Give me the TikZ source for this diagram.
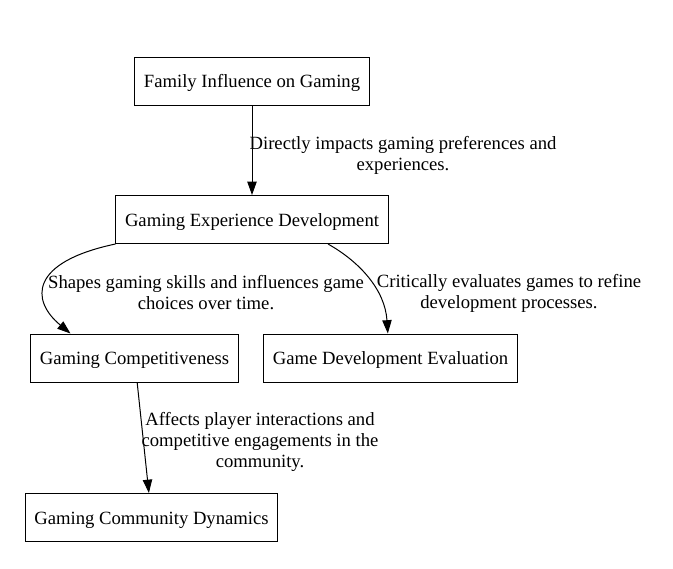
\documentclass[tikz,border=0pt]{standalone}
\usepackage{fontspec}
\setmainfont{Liberation Serif}
\usetikzlibrary{arrows.meta}

\begin{document}
\begin{tikzpicture}[x=0.75pt,y=-0.75pt,font=\fontsize{14}{15.75}\selectfont,
  box/.style={draw,line width=0.75pt,minimum height=36pt,inner xsep=6.8pt,text height=13pt,text depth=3pt},
  lbl/.style={align=center,inner sep=0pt},
  edge/.style={-{Triangle[length=10pt,width=7pt]},line width=0.75pt}]
\useasboundingbox (0,0) rectangle (673,568);
\node[box] (fam) at (252,81) {Family Influence on Gaming};
\node[box] (exp) at (252,219.5) {Gaming Experience Development};
\node[box] (comp) at (134.5,358) {Gaming Competitiveness};
\node[box] (eval) at (390.5,358) {Game Development Evaluation};
\node[box] (comm) at (151.5,517.5) {Gaming Community Dynamics};
\node[lbl] (l1) at (403,155) {Directly impacts gaming preferences and\\experiences.};
\node[lbl] (l2) at (206,293) {Shapes gaming skills and influences game\\choices over time.};
\node[lbl] (l3) at (509,293) {Critically evaluates games to refine\\development processes.};
\node[lbl] (l4) at (260,442) {Affects player interactions and\\competitive engagements in the\\community.};
\draw[edge] (fam) -- (exp);
\draw[edge] (exp.south west) .. controls (30,262) and (30,300) .. ([xshift=-48pt]comp.north);
\draw[edge] ([xshift=57pt]exp.south) .. controls (360,262) and (385,290) .. ([xshift=-2pt]eval.north);
\draw[edge] ([xshift=2pt]comp.south) -- (comm);
\end{tikzpicture}
\end{document}
